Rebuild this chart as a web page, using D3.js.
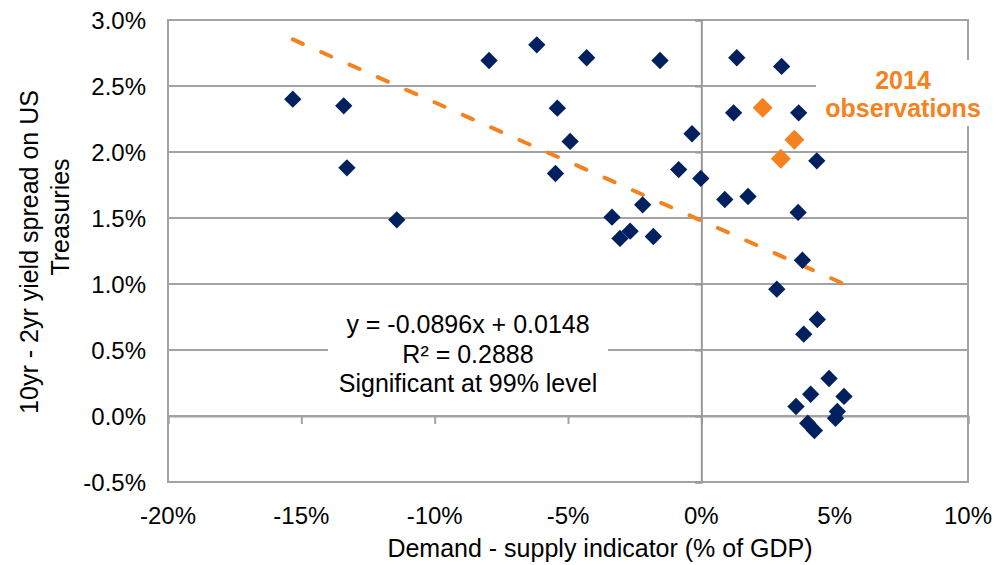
<!DOCTYPE html>
<html>
<head>
<meta charset="utf-8">
<script src="https://cdn.jsdelivr.net/npm/d3@7"></script>
<style>
  html, body { margin: 0; padding: 0; background: #fff; }
  svg { display: block; font-family: "Liberation Sans", Arial, sans-serif; }
</style>
</head>
<body>
<svg id="chart" width="1001" height="565"></svg>
<script>
// ---- Data (percent units) ----
const blueX = [-15.32, -13.41, -13.29, -11.42, -7.96, -6.17, -4.30, -1.55, -5.40, -4.92,
               -0.35, -5.47, -0.85, -0.02, 0.88, -2.20, -3.35, -2.67, -3.05, -1.80,
               1.33, 3.01, 1.21, 3.65, 4.33, 1.75, 3.63, 3.79, 2.83, 4.35,
               3.84, 4.79, 4.10, 5.35, 3.55, 5.10, 5.03, 3.99, 4.24];
const blueY = [2.40, 2.35, 1.88, 1.486, 2.693, 2.812, 2.714, 2.693, 2.332, 2.08,
               2.138, 1.837, 1.867, 1.80, 1.64, 1.60, 1.506, 1.40, 1.345, 1.36,
               2.714, 2.648, 2.297, 2.297, 1.933, 1.663, 1.542, 1.18, 0.961, 0.731,
               0.62, 0.284, 0.165, 0.148, 0.072, 0.034, -0.017, -0.055, -0.11];
const orangeX = [2.30, 3.49, 2.98];
const orangeY = [2.335, 2.092, 1.948];

const trendSlope = -0.0896;     // y = -0.0896x + 0.0148 (fractions)
const trendIntercept = 0.0148;

const xTicks = [-20, -15, -10, -5, 0, 5, 10];
const xTickLabels = ["-20%", "-15%", "-10%", "-5%", "0%", "5%", "10%"];
const yTicks = [-0.5, 0, 0.5, 1.0, 1.5, 2.0, 2.5, 3.0];
const yTickLabels = ["-0.5%", "0.0%", "0.5%", "1.0%", "1.5%", "2.0%", "2.5%", "3.0%"];

const xTitle = "Demand - supply indicator (% of GDP)";
const yTitleLines = ["10yr - 2yr yield spread on US", "Treasuries"];
const equationLines = ["y = -0.0896x + 0.0148", "R\u00B2 = 0.2888", "Significant at 99% level"];
const calloutLines = ["2014", "observations"];

// ---- Layout ----
const svg = d3.select("#chart");
const L = 168, R = 968, T = 20, B = 482;
const x = d3.scaleLinear().domain([-20, 10]).range([L, R]);
const y = d3.scaleLinear().domain([-0.5, 3.0]).range([B, T]);

const grid = "#a3a3a3";
const navy = "#002060";
const orange = "#F58220";

// Horizontal gridlines
svg.append("g").selectAll("line").data(yTicks).join("line")
  .attr("x1", L).attr("x2", R)
  .attr("y1", d => y(d)).attr("y2", d => y(d))
  .attr("stroke", grid).attr("stroke-width", 2);

// Plot border
svg.append("rect").attr("x", L).attr("y", T).attr("width", R - L).attr("height", B - T)
  .attr("fill", "none").attr("stroke", grid).attr("stroke-width", 2);

// X axis at y=0 with ticks downward
const xAxis = d3.axisBottom(x).tickValues(xTicks).tickSize(8).tickFormat("");
const gx = svg.append("g").attr("transform", `translate(0,${y(0)})`).call(xAxis);
gx.select(".domain").attr("stroke", grid).attr("stroke-width", 2);
gx.selectAll(".tick line").attr("stroke", grid).attr("stroke-width", 2);

// Y axis at x=0 with ticks to the left
const yAxis = d3.axisLeft(y).tickValues(yTicks).tickSize(6).tickFormat("");
const gy = svg.append("g").attr("transform", `translate(${x(0)},0)`).call(yAxis);
gy.select(".domain").attr("stroke", "#999").attr("stroke-width", 2);
gy.selectAll(".tick line").attr("stroke", "#999").attr("stroke-width", 2);

// Tick labels
svg.append("g").selectAll("text").data(xTicks).join("text")
  .attr("x", d => x(d)).attr("y", 524)
  .attr("text-anchor", "middle").attr("font-size", 24).attr("fill", "#000")
  .text((d, i) => xTickLabels[i]);
svg.append("g").selectAll("text").data(yTicks).join("text")
  .attr("x", 146).attr("y", d => y(d) + 8.6)
  .attr("text-anchor", "end").attr("font-size", 24).attr("fill", "#000")
  .text((d, i) => yTickLabels[i]);

// Axis titles
svg.append("text").attr("x", 600).attr("y", 557).attr("text-anchor", "middle")
  .attr("font-size", 25).attr("fill", "#000").text(xTitle);
svg.append("text").attr("transform", "translate(37.5,252) rotate(-90)")
  .attr("text-anchor", "middle").attr("font-size", 25).attr("fill", "#000").text(yTitleLines[0]);
svg.append("text").attr("transform", "translate(68.5,217) rotate(-90)")
  .attr("text-anchor", "middle").attr("font-size", 25).attr("fill", "#000").text(yTitleLines[1]);

// Equation box
svg.append("rect").attr("x", 328).attr("y", 302).attr("width", 280).attr("height", 100).attr("fill", "#fff");
svg.append("g").selectAll("text").data(equationLines).join("text")
  .attr("x", 468).attr("y", (d, i) => 333 + i * 29.5)
  .attr("text-anchor", "middle").attr("font-size", 25).attr("fill", "#000").text(d => d);

// Callout box
svg.append("rect").attr("x", 816).attr("y", 60).attr("width", 180).attr("height", 66).attr("fill", "#fff");
svg.append("g").selectAll("text").data(calloutLines).join("text")
  .attr("x", 903).attr("y", (d, i) => 88.5 + i * 28.5)
  .attr("text-anchor", "middle").attr("font-size", 25).attr("font-weight", "bold")
  .attr("fill", orange).text(d => d);

// Trend line
const allX = blueX.concat(orangeX);
const tx = [d3.min(allX), d3.max(allX)];
svg.append("line")
  .attr("x1", x(tx[0])).attr("y1", y((trendIntercept + trendSlope * tx[0] / 100) * 100))
  .attr("x2", x(tx[1])).attr("y2", y((trendIntercept + trendSlope * tx[1] / 100) * 100))
  .attr("stroke", orange).attr("stroke-width", 4).attr("stroke-linecap", "round")
  .attr("stroke-dasharray", "11,20");

// Points
const diamond = d3.symbol().type(d3.symbolDiamond2);
const blue = blueX.map((v, i) => [v, blueY[i]]);
const oran = orangeX.map((v, i) => [v, orangeY[i]]);
svg.append("g").selectAll("path").data(blue).join("path")
  .attr("transform", d => `translate(${x(d[0])},${y(d[1])}) rotate(0)`)
  .attr("d", d3.symbol().type(d3.symbolSquare).size(150)())
  .attr("transform", d => `translate(${x(d[0])},${y(d[1])}) rotate(45)`)
  .attr("fill", navy);
svg.append("g").selectAll("path").data(oran).join("path")
  .attr("d", d3.symbol().type(d3.symbolSquare).size(200)())
  .attr("transform", d => `translate(${x(d[0])},${y(d[1])}) rotate(45)`)
  .attr("fill", orange);
</script>
</body>
</html>
